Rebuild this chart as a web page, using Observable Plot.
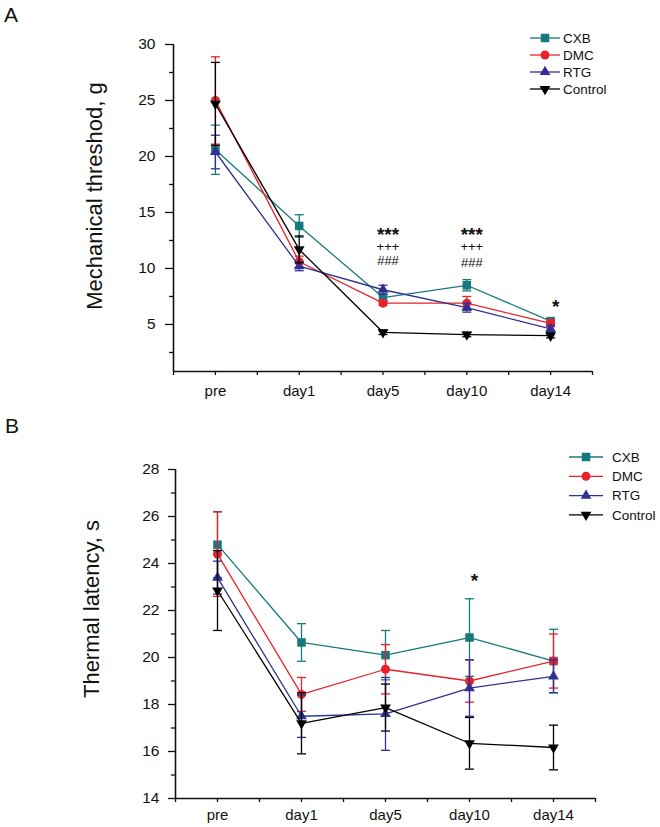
<!DOCTYPE html>
<html><head><meta charset="utf-8">
<script src="https://cdn.jsdelivr.net/npm/d3@7"></script>
<script src="https://cdn.jsdelivr.net/npm/@observablehq/plot@0.6"></script>
<style>
body{margin:0;background:#fff;font-family:Arial,"Liberation Sans",sans-serif}
#wrap{position:relative;width:660px;height:827px;overflow:hidden}
#wrap svg{position:absolute;left:0}
</style></head><body><div id="wrap"></div>
<script>
// ---- categories & groups ----
const days = ["pre","day1","day5","day10","day14"];
const groups = ["CXB","DMC","RTG","Control"];
const colors = ["#17797d","#e8222a","#2e3192","#000000"];

// ---- Panel A: Mechanical threshold (g), mean and error ----
const mechCXB     = [20.6, 13.8, 7.4, 8.5, 5.3];
const mechCXBErr  = [2.2, 1.0, 0.3, 0.5, 0.2];
const mechDMC     = [25.0, 10.6, 6.9, 6.9, 5.1];
const mechDMCErr  = [3.9, 0.5, 0.2, 0.6, 0.3];
const mechRTG     = [20.4, 10.2, 8.1, 6.5, 4.6];
const mechRTGErr  = [1.5, 0.4, 0.4, 0.4, 0.3];
const mechCtrl    = [24.7, 11.7, 4.3, 4.1, 4.0];
const mechCtrlErr = [3.7, 1.2, 0.2, 0.2, 0.2];
const mechTicks   = [5, 10, 15, 20, 25, 30];
const mechMinor   = [2.5, 7.5, 12.5, 17.5, 22.5, 27.5];

// ---- Panel B: Thermal latency (s), mean and error ----
const thermCXB     = [24.8, 20.64, 20.1, 20.85, 19.85];
const thermCXBErr  = [1.4, 0.8, 1.05, 1.65, 1.35];
const thermDMC     = [24.4, 18.43, 19.5, 19.0, 19.85];
const thermDMCErr  = [1.8, 0.72, 1.05, 0.9, 1.15];
const thermRTG     = [23.4, 17.5, 17.6, 18.7, 19.2];
const thermRTGErr  = [0.7, 0.9, 1.55, 1.2, 0.7];
const thermCtrl    = [22.85, 17.2, 17.87, 16.35, 16.17];
const thermCtrlErr = [1.7, 1.3, 1.0, 1.1, 0.95];
const thermTicks   = [14, 16, 18, 20, 22, 24, 26, 28];
const thermMinor   = [15, 17, 19, 21, 23, 25, 27];

// ---- significance annotations (category index, value, label) ----
const annotA = [
  {i: 2, v: 13.0, t: "***", big: true}, {i: 2, v: 11.9, t: "+++"}, {i: 2, v: 10.7, t: "###"},
  {i: 3, v: 13.0, t: "***", big: true}, {i: 3, v: 11.9, t: "+++"}, {i: 3, v: 10.5, t: "###"},
  {i: 4, v: 6.6, t: "*", big: true}
];
const annotB = [{i: 3, v: 23.25, t: "*", big: true}];

function buildRows(vals, errs) {
  return groups.flatMap((g, k) => days.map((d, i) => ({group: g, k, i, v: vals[k][i], e: errs[k][i]})));
}
const rowsA = buildRows([mechCXB, mechDMC, mechRTG, mechCtrl], [mechCXBErr, mechDMCErr, mechRTGErr, mechCtrlErr]);
const rowsB = buildRows([thermCXB, thermDMC, thermRTG, thermCtrl], [thermCXBErr, thermDMCErr, thermRTGErr, thermCtrlErr]);

const s3 = Math.sqrt(3);
const capSymbol = {draw(c) { c.moveTo(-4.5, 0); c.lineTo(4.5, 0); }};
const triDown = {draw(c, size) {
  const y = -Math.sqrt(size / (s3 * 3));
  c.moveTo(0, -2 * y); c.lineTo(s3 * y, y); c.lineTo(-s3 * y, y); c.closePath();
}};
const symbols = ["square", "circle", "triangle", triDown];
const radii = [4.8, 4.5, 4.0, 4.0];
const xTicks = d3.range(-0.5, 4.51, 0.5);
const FONT = "Arial, 'Liberation Sans', sans-serif";

function panel(o) {
  const marks = [
    Plot.axisY({ticks: o.yMinor, tickSize: 4, tickFormat: () => "", label: null, strokeWidth: 1.3}),
    Plot.axisY({ticks: o.yMajor, tickSize: o.tickSize, tickPadding: o.tickPad, fontSize: o.yFont, label: null, strokeWidth: 1.3}),
    Plot.axisX({ticks: xTicks, tickSize: 4, tickPadding: o.xPad, fontSize: 15,
      tickFormat: d => Number.isInteger(d) ? days[d] : "", label: null, strokeWidth: 1.3}),
    Plot.ruleX([-0.5], {stroke: "#111", strokeWidth: 1.6}),
    Plot.ruleY([o.yDomain[0]], {stroke: "#111", strokeWidth: 1.6})
  ];
  groups.forEach((g, k) => {
    const rows = o.rows.filter(r => r.k === k);
    marks.push(
      Plot.ruleX(rows, {x: "i", y1: r => r.v - r.e, y2: r => r.v + r.e, stroke: colors[k], strokeWidth: 1.3}),
      Plot.dot(rows, {x: "i", y: r => r.v + r.e, symbol: capSymbol, r: 3, stroke: colors[k], fill: "none", strokeWidth: 1.3}),
      Plot.dot(rows, {x: "i", y: r => r.v - r.e, symbol: capSymbol, r: 3, stroke: colors[k], fill: "none", strokeWidth: 1.3}),
      Plot.line(rows, {x: "i", y: "v", stroke: colors[k], strokeWidth: 1.3}),
      Plot.dot(rows, {x: "i", y: "v", symbol: symbols[k], r: radii[k], fill: colors[k], stroke: "none"})
    );
  });
  marks.push(
    Plot.text(o.annot.filter(a => a.big), {x: "i", y: "v", text: "t", dx: 5, fontSize: 19, fontWeight: "bold", fill: "#111"}),
    Plot.text(o.annot.filter(a => !a.big), {x: "i", y: "v", text: "t", dx: 5, fontSize: 13, fill: "#111"})
  );
  const svg = Plot.plot({
    width: 660, height: o.height,
    marginTop: o.mt, marginBottom: o.mb, marginLeft: o.ml, marginRight: o.mr,
    x: {type: "linear", domain: [-0.5, 4.5]},
    y: {domain: o.yDomain},
    style: {fontFamily: FONT, fontSize: "15px", color: "#111", background: "transparent", overflow: "visible"},
    marks
  });
  svg.style.top = o.top + "px";
  const s = d3.select(svg);
  // panel letter
  s.append("text").attr("x", o.letterX).attr("y", o.letterY).attr("font-size", 21).attr("text-anchor", "start")
    .attr("font-family", FONT).attr("fill", "#111").text(o.letter);
  // y title
  s.append("text").attr("transform", `translate(${o.titleX},${o.titleY}) rotate(-90)`)
    .attr("text-anchor", "middle").attr("font-size", 22).attr("font-family", FONT).attr("fill", "#111").text(o.title);
  // legend
  const lg = s.append("g").attr("text-anchor", "start");
  groups.forEach((g, k) => {
    const y = o.leg.y0 + k * o.leg.dy;
    lg.append("line").attr("x1", o.leg.x1).attr("x2", o.leg.x2).attr("y1", y).attr("y2", y)
      .attr("stroke", colors[k]).attr("stroke-width", 1.3);
    const sym = typeof symbols[k] === "string" ? {square: d3.symbolSquare, circle: d3.symbolCircle, triangle: d3.symbolTriangle}[symbols[k]] : symbols[k];
    lg.append("path").attr("d", d3.symbol(sym, radii[k] * radii[k] * Math.PI)())
      .attr("transform", `translate(${(o.leg.x1 + o.leg.x2) / 2},${y})`).attr("fill", colors[k]);
    lg.append("text").attr("x", o.leg.tx).attr("y", y).attr("dy", "0.35em").attr("font-size", 13.5)
      .attr("text-anchor", "start").attr("font-family", FONT).attr("fill", "#111").text(g);
  });
  return svg;
}

const wrap = document.getElementById("wrap");
wrap.appendChild(panel({
  rows: rowsA, annot: annotA, top: 0, height: 400, mt: 44, mb: 29, ml: 173, mr: 68,
  yDomain: [0.8, 30], yMajor: mechTicks, yMinor: mechMinor, tickSize: 8, tickPad: 10, yFont: 15.5, xPad: 10,
  letter: "A", letterX: 4, letterY: 22, title: "Mechanical threshod, g", titleX: 102, titleY: 196,
  leg: {y0: 38, dy: 17, x1: 530, x2: 560, tx: 563}
}));
wrap.appendChild(panel({
  rows: rowsB, annot: annotB, top: 400, height: 427, mt: 69, mb: 29, ml: 175, mr: 65,
  yDomain: [14, 28], yMajor: thermTicks, yMinor: thermMinor, tickSize: 7, tickPad: 9, yFont: 15.5, xPad: 7,
  letter: "B", letterX: 5, letterY: 33, title: "Thermal latency, s", titleX: 99, titleY: 209,
  leg: {y0: 57, dy: 19.3, x1: 569, x2: 603, tx: 612}
}));
</script></body></html>
